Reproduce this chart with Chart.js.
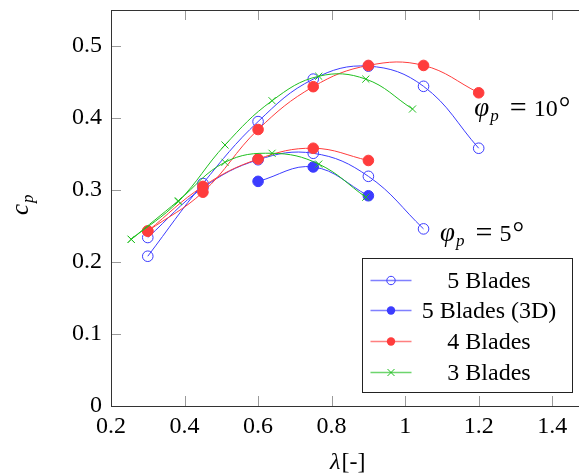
<!DOCTYPE html>
<html>
<head>
<meta charset="utf-8">
<script src="https://cdn.jsdelivr.net/npm/chart.js@4.4.0/dist/chart.umd.min.js"></script>
<style>
html, body { margin: 0; padding: 0; overflow: hidden; background: #fff; }
canvas { display: block; }
</style>
</head>
<body>
<canvas id="chart" width="600" height="474"></canvas>
<script>
// tip speed ratios
var lambda5 = [0.3, 0.45, 0.6, 0.75, 0.9, 1.05, 1.2];
var lambda3D = [0.6, 0.75, 0.9];
var lambda4 = [0.3, 0.45, 0.6, 0.75, 0.9, 1.05, 1.2];
var lambda3 = [0.255, 0.383, 0.51, 0.638, 0.765, 0.893, 1.02];

// power coefficients, pitch 10 deg
var cp5Blades10 = [0.208, 0.309, 0.395, 0.454, 0.472, 0.444, 0.358];
var cp4Blades10 = [0.243, 0.297, 0.384, 0.4435, 0.473, 0.473, 0.435];
var cp3Blades10 = [0.2315, 0.284, 0.3625, 0.424, 0.458, 0.454, 0.4125];

// power coefficients, pitch 5 deg
var cp5Blades5 = [0.234, 0.303, 0.342, 0.351, 0.319, 0.246];
var cp5Blades3D = [0.312, 0.332, 0.292];
var cp4Blades5 = [0.243, 0.305, 0.343, 0.358, 0.341];
var cp3Blades5 = [0.2315, 0.285, 0.3385, 0.351, 0.336, 0.29];

var xTicks = [0.2, 0.4, 0.6, 0.8, 1, 1.2, 1.4];
var yTicks = [0, 0.1, 0.2, 0.3, 0.4, 0.5];

var legendLabels = ['5 Blades', '5 Blades (3D)', '4 Blades', '3 Blades'];
var pitchLabels = ['10', '5'];
var pitchLabelX = [1.188, 1.095];
var pitchLabelY = [0.403, 0.2285];

var BLUE = '#3c3cff', RED = '#ff3c3c', GREEN = '#1fbf1f';
var SERIF = '"Liberation Serif", "DejaVu Serif", serif';

function pts(xs, ys) {
    return ys.map(function (y, i) { return {x: xs[i], y: y}; });
}

function series(label, xs, ys, color, style, filled, order) {
    return {
        label: label,
        data: pts(xs, ys),
        showLine: true,
        tension: 0.4,
        borderColor: color,
        borderWidth: 1,
        backgroundColor: color,
        pointStyle: style,
        pointRadius: style == 'crossRot' ? 5 : 5.3,
        pointBorderColor: color,
        pointBorderWidth: 1,
        pointBackgroundColor: filled ? color : 'rgba(0,0,0,0)',
        order: order
    };
}

var datasets = [
    series('5 Blades', lambda5, cp5Blades10, BLUE, 'circle', false, 3),
    series('5 Blades', lambda5.slice(0, cp5Blades5.length), cp5Blades5, BLUE, 'circle', false, 3),
    series('5 Blades (3D)', lambda3D, cp5Blades3D, BLUE, 'circle', true, 2),
    series('4 Blades', lambda4, cp4Blades10, RED, 'circle', true, 1),
    series('4 Blades', lambda4.slice(0, cp4Blades5.length), cp4Blades5, RED, 'circle', true, 1),
    series('3 Blades', lambda3, cp3Blades10, GREEN, 'crossRot', false, 0),
    series('3 Blades', lambda3.slice(0, cp3Blades5.length), cp3Blades5, GREEN, 'crossRot', false, 0)
];

function fmt(v) { return String(+(+v).toFixed(2)); }

// draws a run of text pieces (font, text, baseline shift, gap before)
function drawRun(ctx, x, y, parts) {
    parts.forEach(function (p) {
        x += p.gap || 0;
        ctx.font = p.font;
        ctx.fillText(p.text, x, y + (p.dy || 0));
        x += ctx.measureText(p.text).width;
    });
}

function marker(ctx, style, filled, color, x, y, r) {
    ctx.save();
    ctx.strokeStyle = color;
    ctx.fillStyle = color;
    ctx.lineWidth = 1;
    ctx.beginPath();
    if (style == 'crossRot') {
        ctx.moveTo(x - r * 0.7, y - r * 0.7); ctx.lineTo(x + r * 0.7, y + r * 0.7);
        ctx.moveTo(x + r * 0.7, y - r * 0.7); ctx.lineTo(x - r * 0.7, y + r * 0.7);
        ctx.stroke();
    } else {
        ctx.arc(x, y, r, 0, Math.PI * 2);
        if (filled) ctx.fill(); else ctx.stroke();
    }
    ctx.restore();
}

var decorations = {
    id: 'decorations',
    afterDraw: function (chart) {
        var ctx = chart.ctx;
        var a = chart.chartArea;
        var xs = chart.scales.x, ys = chart.scales.y;

        // frame and inward ticks, pgfplots style
        ctx.save();
        ctx.strokeStyle = '#9a9a9a';
        ctx.lineWidth = 1;
        ctx.beginPath();
        xTicks.forEach(function (v) {
            var px = Math.round(xs.getPixelForValue(v)) + 0.5;
            ctx.moveTo(px, a.bottom); ctx.lineTo(px, a.bottom - 10);
            ctx.moveTo(px, a.top); ctx.lineTo(px, a.top + 10);
        });
        yTicks.forEach(function (v) {
            var py = Math.round(ys.getPixelForValue(v)) + 0.5;
            ctx.moveTo(a.left, py); ctx.lineTo(a.left + 10, py);
            ctx.moveTo(a.right, py); ctx.lineTo(a.right - 10, py);
        });
        ctx.stroke();
        ctx.strokeStyle = '#333';
        ctx.strokeRect(Math.round(a.left) + 0.5, Math.round(a.top) + 0.5,
            Math.round(a.right - a.left), Math.round(a.bottom - a.top));
        ctx.restore();

        // pitch angle labels
        ctx.save();
        ctx.fillStyle = '#000';
        ctx.textBaseline = 'alphabetic';
        pitchLabels.forEach(function (t, i) {
            var px = xs.getPixelForValue(pitchLabelX[i]);
            var py = ys.getPixelForValue(pitchLabelY[i]);
            drawRun(ctx, px, py, [
                {font: 'italic 27px ' + SERIF, text: 'φ'},
                {font: 'italic 17px ' + SERIF, text: 'p', dy: 5, gap: 1},
                {font: '30px ' + SERIF, text: '=', gap: 11, dy: 1},
                {font: '24px ' + SERIF, text: t, gap: 7},
                {font: '29px ' + SERIF, text: '°', gap: 1, dy: 1}
            ]);
        });
        ctx.restore();

        // axis titles
        ctx.save();
        ctx.fillStyle = '#000';
        ctx.textBaseline = 'alphabetic';
        drawRun(ctx, 330, 469, [
            {font: 'italic 24px ' + SERIF, text: 'λ'},
            {font: '24px ' + SERIF, text: '[-]', gap: 1}
        ]);
        ctx.translate(28, 215);
        ctx.rotate(-Math.PI / 2);
        drawRun(ctx, 0, 0, [
            {font: 'italic 25px ' + SERIF, text: 'c'},
            {font: 'italic 17px ' + SERIF, text: 'p', dy: 5, gap: 1}
        ]);
        ctx.restore();

        // legend box
        var lx = 362.5, ly = 258.5, lw = 210, lh = 134;
        ctx.save();
        ctx.fillStyle = '#fff';
        ctx.fillRect(lx, ly, lw, lh);
        ctx.strokeStyle = '#222';
        ctx.lineWidth = 1;
        ctx.strokeRect(lx, ly, lw, lh);
        legendLabels.forEach(function (label, i) {
            var ds = chart.data.datasets.filter(function (d) { return d.label == label; })[0];
            var y = Math.round(ly + 21 + i * 30.8) + 0.5;
            ctx.globalAlpha = 0.65;
            ctx.strokeStyle = ds.borderColor;
            ctx.lineWidth = 1.5;
            ctx.beginPath();
            ctx.moveTo(lx + 8, y); ctx.lineTo(lx + 49, y);
            ctx.stroke();
            ctx.globalAlpha = 1;
            var filled = ds.pointBackgroundColor != 'rgba(0,0,0,0)';
            marker(ctx, ds.pointStyle, filled, ds.borderColor, lx + 28.5, y, ds.pointStyle == 'crossRot' ? 5 : 4.2);
            ctx.fillStyle = '#000';
            ctx.font = '24px ' + SERIF;
            ctx.textAlign = 'center';
            ctx.textBaseline = 'middle';
            ctx.fillText(label, lx + 126.5, y + 1);
        });
        ctx.restore();
    }
};

new Chart(document.getElementById('chart'), {
    type: 'scatter',
    data: {datasets: datasets},
    options: {
        responsive: false,
        animation: false,
        devicePixelRatio: 1,
        layout: {padding: {top: 10, right: 11, left: 0, bottom: 0}},
        plugins: {legend: {display: false}, tooltip: {enabled: false}},
        scales: {
            x: {
                type: 'linear',
                position: 'bottom',
                min: 0.2,
                max: 1.5,
                afterBuildTicks: function (s) { s.ticks = xTicks.map(function (v) { return {value: v}; }); },
                afterFit: function (s) { s.height = 68; s.paddingLeft = 0; s.paddingRight = 0; },
                grid: {display: false, drawTicks: false},
                border: {display: false},
                ticks: {
                    color: '#000',
                    padding: 6,
                    maxRotation: 0,
                    autoSkip: false,
                    font: {family: SERIF, size: 24},
                    callback: fmt
                }
            },
            y: {
                type: 'linear',
                min: 0,
                max: 0.55,
                afterBuildTicks: function (s) { s.ticks = yTicks.map(function (v) { return {value: v}; }); },
                afterFit: function (s) { s.width = 111; s.paddingTop = 0; s.paddingBottom = 0; },
                grid: {display: false, drawTicks: false},
                border: {display: false},
                ticks: {
                    color: '#000',
                    padding: 9,
                    autoSkip: false,
                    font: {family: SERIF, size: 24},
                    callback: fmt
                }
            }
        }
    },
    plugins: [decorations]
});
</script>
</body>
</html>
